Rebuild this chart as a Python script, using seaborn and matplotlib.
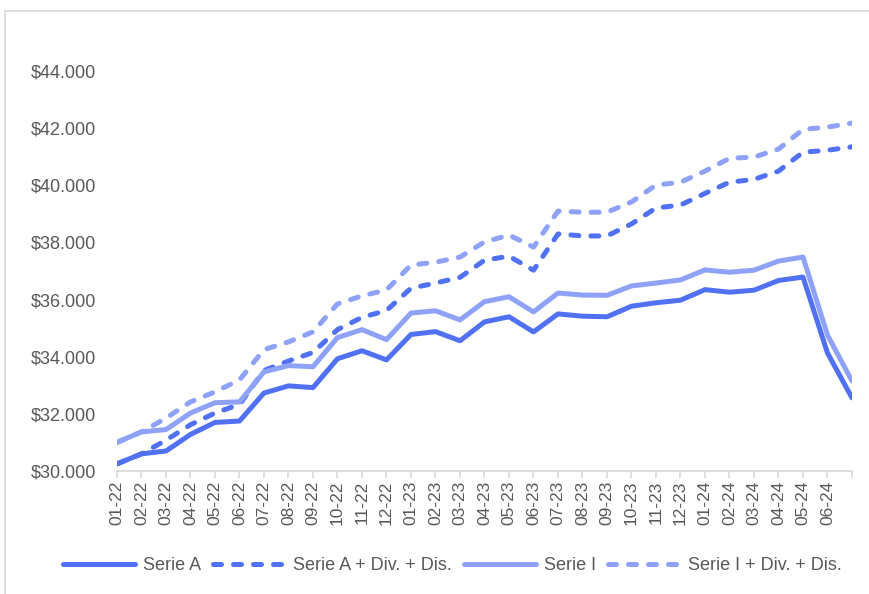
import numpy as np
import pandas as pd
import matplotlib
matplotlib.use('Agg')
import matplotlib.pyplot as plt
from matplotlib.lines import Line2D
from matplotlib.ticker import FuncFormatter
import seaborn as sns

# Datos (mensuales, el ultimo punto no tiene etiqueta)
meses = ['01-22', '02-22', '03-22', '04-22', '05-22', '06-22', '07-22', '08-22', '09-22', '10-22',
         '11-22', '12-22', '01-23', '02-23', '03-23', '04-23', '05-23', '06-23', '07-23', '08-23',
         '09-23', '10-23', '11-23', '12-23', '01-24', '02-24', '03-24', '04-24', '05-24', '06-24', '']

serie_a = [30250, 30600, 30700, 31280, 31700, 31750, 32730, 32980, 32920, 33930,
           34210, 33890, 34780, 34880, 34560, 35220, 35400, 34870, 35500, 35420,
           35400, 35770, 35890, 35980, 36350, 36260, 36330, 36670, 36790, 34130, 32560]

serie_a_dd = [30250, 30600, 31080, 31620, 32030, 32330, 33520, 33850, 34150, 34950,
              35380, 35620, 36400, 36580, 36780, 37380, 37520, 37030, 38300, 38230,
              38230, 38650, 39210, 39310, 39720, 40110, 40210, 40500, 41160, 41230, 41350]

serie_i = [31000, 31370, 31450, 32030, 32390, 32420, 33470, 33690, 33650, 34670,
           34950, 34600, 35530, 35610, 35290, 35930, 36100, 35570, 36230, 36160,
           36150, 36480, 36580, 36690, 37040, 36960, 37030, 37350, 37490, 34760, 33150]

serie_i_dd = [31000, 31370, 31850, 32420, 32770, 33190, 34250, 34520, 34870, 35850,
              36130, 36340, 37210, 37310, 37490, 38020, 38260, 37840, 39100, 39060,
              39060, 39420, 40010, 40110, 40500, 40950, 40990, 41270, 41960, 42040, 42180]

nombres = ['Serie A', 'Serie A + Div. + Dis.', 'Serie I', 'Serie I + Div. + Dis.']
series = [serie_a, serie_a_dd, serie_i, serie_i_dd]

azul = '#5171F5'
azul_claro = '#8EA2F9'
colores = [azul, azul, azul_claro, azul_claro]
estilos = ['-', (0, (1.6, 2.4)), '-', (0, (1.6, 2.4))]

sns.set_style('white')
plt.rcParams['font.family'] = ['Liberation Sans', 'DejaVu Sans']
gris = '#595959'

fig = plt.figure(figsize=(8.7, 5.94), dpi=100)
ax = fig.add_axes([117 / 870, 1 - 471 / 594, (852 - 117) / 870, (471 - 14) / 594])

idx = np.arange(len(meses))
for nombre, valores, color, ls in zip(nombres, series, colores, estilos):
    sns.lineplot(x=idx, y=valores, color=color, linestyle=ls, linewidth=3.6,
                 label=nombre, ax=ax)

for line in ax.lines:
    line.set_dash_capstyle('round')
    line.set_solid_capstyle('round')
    line.set_solid_joinstyle('round')
    line.set_dash_joinstyle('round')

ax.set_xlim(0, len(meses) - 1)
ax.set_ylim(30000, 46000)
ax.set_yticks(np.arange(30000, 44001, 2000))
ax.yaxis.set_major_formatter(FuncFormatter(lambda v, p: '$' + f'{v:,.0f}'.replace(',', '.')))
ax.set_xticks(idx)
ax.set_xticklabels(meses, rotation=90)
ax.set_xlabel('')
ax.set_ylabel('')

for s in ['top', 'right', 'left']:
    ax.spines[s].set_visible(False)
ax.spines['bottom'].set_color('#D9D9D9')
ax.spines['bottom'].set_linewidth(1.2)

ax.tick_params(axis='y', length=0, pad=15, labelsize=13, labelcolor=gris)
ax.tick_params(axis='x', length=5, width=1.2, color='#D9D9D9', pad=2,
               labelsize=12.5, labelcolor=gris, bottom=True)
ax.grid(False)

handles, labels = ax.get_legend_handles_labels()
if ax.get_legend() is not None:
    ax.get_legend().remove()
leg = fig.legend(handles, labels, loc='center', bbox_to_anchor=(0.52, 1 - 566 / 594),
                 ncol=4, frameon=False, fontsize=13, handlelength=4.0,
                 handletextpad=0.4, columnspacing=0.7, labelcolor=gris)
for h in leg.legend_handles:
    h.set_dash_capstyle('round')
    h.set_solid_capstyle('round')

# borde del area del grafico
fig.add_artist(Line2D([5 / 870, 1], [1 - 11 / 594, 1 - 11 / 594], color='#D9D9D9', lw=1.2))
fig.add_artist(Line2D([5 / 870, 5 / 870], [0, 1 - 11 / 594], color='#D9D9D9', lw=1.2))

fig.savefig('out.png', dpi=100)
